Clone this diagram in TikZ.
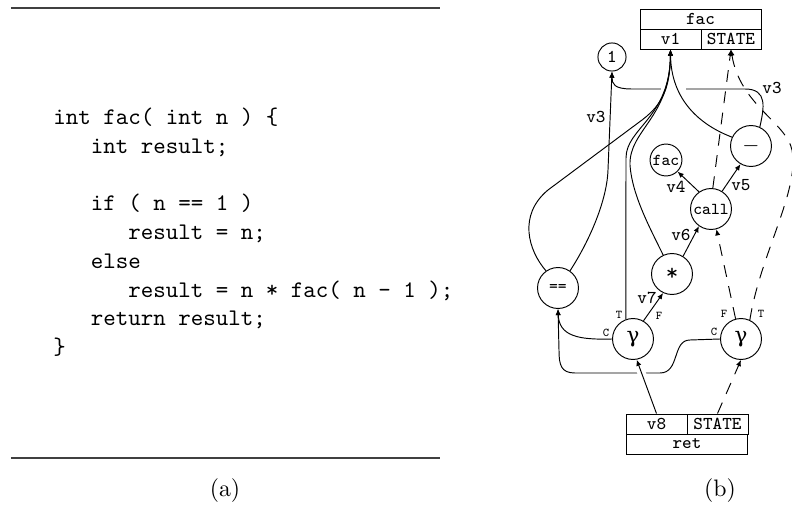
\documentclass[tikz,border=0pt]{standalone}
\usepackage{fontspec}
\newfontfamily\grk{DejaVu Serif}
\usetikzlibrary{arrows.meta,calc}
\tikzset{
  op/.style={circle, draw, inner sep=0pt, minimum size=17.2pt, font=\fontsize{7}{8}\selectfont\ttfamily},
  opsm/.style={op, minimum size=13.4pt},
  opone/.style={op, minimum size=11.8pt, font=\fontsize{7.6}{9}\selectfont\ttfamily},
  cell/.style={draw, inner sep=0pt, minimum height=8.4pt, font=\fontsize{7.6}{9}\selectfont\ttfamily},
  lbl/.style={font=\fontsize{7.6}{9}\selectfont\ttfamily, inner sep=0pt},
  port/.style={font=\fontsize{5}{6}\selectfont\ttfamily, inner sep=0pt},
  edge/.style={-{Latex[length=2.6pt,width=2.2pt]}},
  sedge/.style={edge, dash pattern=on 5pt off 4pt},
  code/.style={anchor=base west, inner sep=0pt, font=\ttfamily},
  rule/.style={line width=0.5pt, draw=black!75},
  gap/.style={draw=white, line width=2pt},
}
\begin{document}
\begin{tikzpicture}[x=0.42pt, y=-0.42pt]
\useasboundingbox (0,0) rectangle (792,515);
% ---------- (a) ----------
\draw[rule] (11,8) -- (440,8);
\draw[rule] (11,458) -- (440,458);
\node[code] (l1) at (53,125) {int fac( int n ) \{};
\node[code] (l2) at (90.5,153.7) {int result;};
\node[code] (l3) at (90.5,211) {if ( n == 1 )};
\node[code] (l4) at (128,239.8) {result = n;};
\node[code] (l5) at (90.5,268.5) {else};
\node[code] (l6) at (128,297.2) {result = n * fac( n - 1 );};
\node[code] (l7) at (90.5,326) {return result;};
\node[code] (l8) at (53,354.6) {\}};
\node (capa) at (225,491) {(a)};
% ---------- (b) ----------
\node[cell, minimum width=50.8pt] (facname) at (700.5,19) {fac};
\node[cell, minimum width=25.6pt] (fv1) at (670.5,39) {v1};
\node[cell, minimum width=25.2pt] (fstate) at (731,39) {STATE};
\node[cell, minimum width=25.6pt] (rv8) at (656.5,424) {v8};
\node[cell, minimum width=25.6pt] (rstate) at (717.5,424) {STATE};
\node[cell, minimum width=51.2pt] (retname) at (687,444) {ret};

\node[opone] (one) at (612,57) {1};
\node[op] (minus) at (751,146) {\fontsize{9}{10}\selectfont$-$};
\node[opsm] (facfn) at (666,160) {fac};
\node[op] (call) at (711,209) {call};
\node[op] (mul) at (672,274) {\fontsize{10}{12}\selectfont *};
\node[op] (eq) at (558,288) {==};
\node[op] (g1) at (633,339) {\grk\fontsize{9}{11}\selectfont γ};
\node[op] (g2) at (741,339) {\grk\fontsize{9}{11}\selectfont γ};

% minus -> 1
\draw[edge] (minus.65) .. controls (764,108) and (768,89) .. (745,89) -- (632,89) .. controls (614,89) and (612,84) .. (one.south);
\draw[gap] (661,89) -- (686,89);
% edges to v1
\draw[edge] (eq.125) .. controls (528,250) and (518,215) .. (548,190) -- (638,123) .. controls (662,106) and (670,90) .. (fv1.south);
\draw[edge] (g1.110) -- (626,158) .. controls (626,128) and (670,118) .. (fv1.south);
\draw[edge] (mul.115) .. controls (650,228) and (632,195) .. (630,165) .. controls (629,130) and (670,118) .. (fv1.south);
\draw[edge] (minus.155) .. controls (700,125) and (671,100) .. (fv1.south);
% == -> 1
\draw[edge] (eq.55) .. controls (590,240) and (607,200) .. (608,170) -- (one.south);
% data edges
\draw[edge] (g1.60) -- (mul.245);
\draw[edge] (mul.58) -- (call.235);
\draw[edge] (call.125) -- (facfn.315);
\draw[edge] (call.58) -- (minus.240);
% state edges
\draw[sedge] (call.85) -- (fstate.south);
\draw[sedge] (g2.65) .. controls (760,255) and (800,190) .. (792,150) .. controls (786,122) and (740,105) .. (fstate.south);
\draw[sedge] (g2.105) -- (call.285);
% conditions
\draw[edge] (g1.180) .. controls (578,340) and (559,336) .. (eq.south);
\draw[edge] (g2.180) -- (690,340) .. controls (672,340) and (680,373) .. (660,373) -- (575,373) .. controls (561,373) and (559,365) .. (559,350) -- (eq.south);
% return
\draw[white, line width=3.5pt] ($(rv8.north)!0.66!(g1.280)$) -- ($(rv8.north)!0.86!(g1.280)$);
\draw[edge] (rv8.north) -- (g1.280);
\draw[sedge] (rstate.north) -- (g2.south);

% labels
\node[lbl] (lv3a) at (596,117) {v3};
\node[lbl] (lv3b) at (772,88) {v3};
\node[lbl] (lv4) at (676,187) {v4};
\node[lbl] (lv5) at (741,185) {v5};
\node[lbl] (lv6) at (681,235) {v6};
\node[lbl] (lv7) at (647,298) {v7};
\node[port] (c1) at (606,333) {C};
\node[port] (t1) at (619,315) {T};
\node[port] (f1) at (659,316) {F};
\node[port] (c2) at (714,332) {C};
\node[port] (f2) at (724,314) {F};
\node[port] (t2) at (761,314) {T};

\node (capb) at (720,491) {(b)};
\end{tikzpicture}
\end{document}
